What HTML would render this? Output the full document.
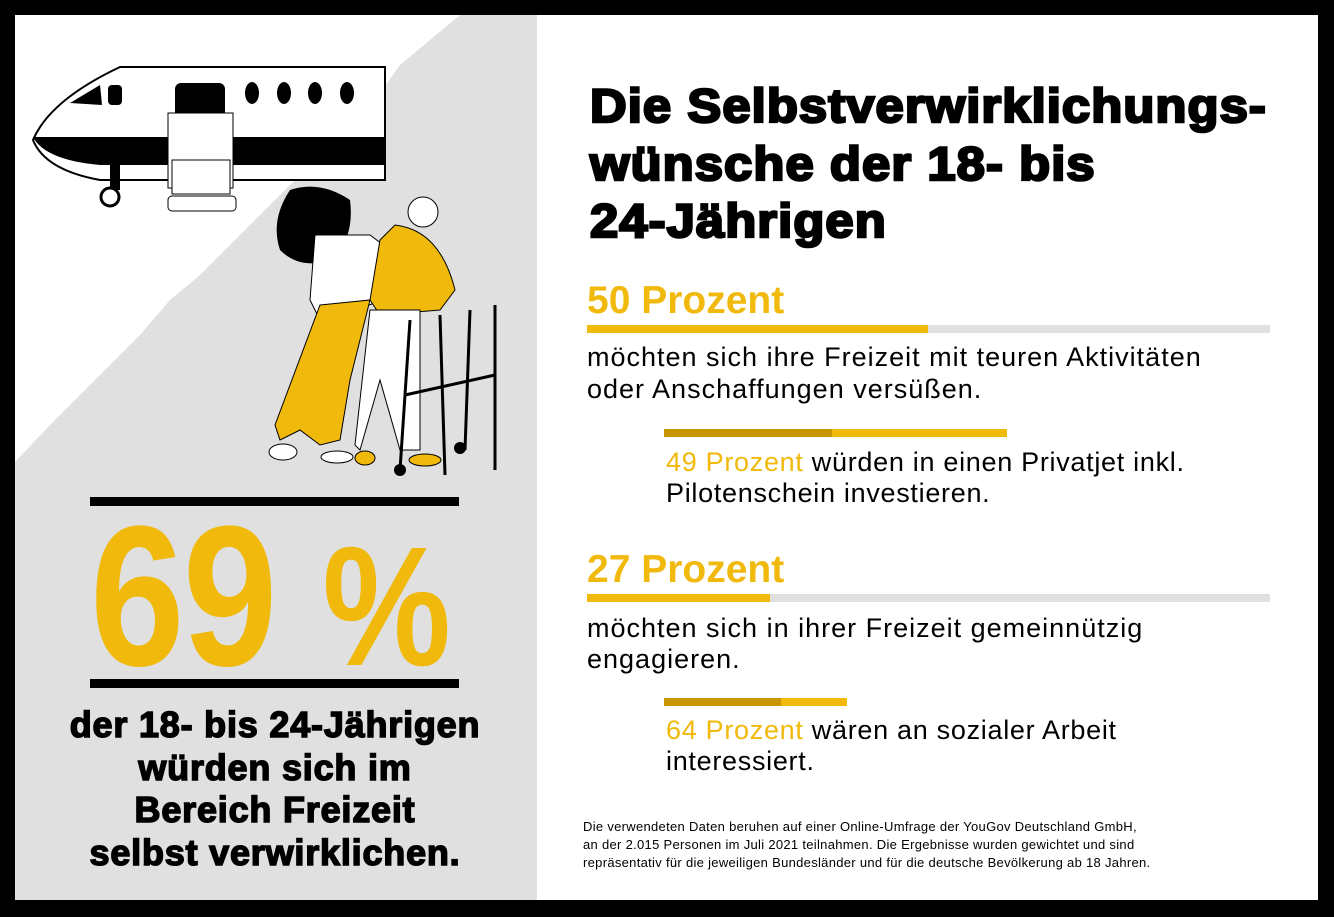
<!DOCTYPE html>
<html><head><meta charset="utf-8"><style>
html,body{margin:0;padding:0}
body{width:1334px;height:917px;background:#000;position:relative;overflow:hidden;font-family:"Liberation Sans",sans-serif}
#left{position:absolute;left:15px;top:15px;width:522px;height:885px;background:#e0e0e0}
#right{position:absolute;left:537px;top:15px;width:781px;height:885px;background:#fff}
.t{position:absolute;white-space:nowrap}
.title{left:590px;font-weight:bold;font-size:47px;color:#000;-webkit-text-stroke:2.5px #000;letter-spacing:1px;line-height:1;transform:scaleX(1.08);transform-origin:left}
.y{color:#f0b90b}
.bar{position:absolute;height:8px}
.body{font-size:27px;color:#000;left:587px;letter-spacing:1px}
.sub{font-size:27px;color:#000;left:666px;letter-spacing:0.7px}
.big{font-size:39px;font-weight:bold;color:#f0b90b;left:587px}
.foot{font-size:13px;left:583px;color:#000;letter-spacing:0.3px}
.bl{font-weight:bold;font-size:36px;-webkit-text-stroke:1.5px #000;width:440px;text-align:center;left:55px;letter-spacing:0.8px}
</style></head><body>
<div id="left"></div>
<div id="right"></div>
<svg style="position:absolute;left:0;top:0" width="537" height="917">
<polygon points="15,15 460,15 430,40 400,65 375,100 345,130 320,160 290,185 260,215 230,245 200,275 170,300 140,335 110,365 80,395 50,425 15,462" fill="#fff"/>
<path d="M120,67 L385,67 L385,180 L100,180 Q45,170 33,140 Q50,100 120,67Z" fill="#fff" stroke="#000" stroke-width="2"/>
<path d="M33,137 L385,137 L385,165 L100,165 Q45,160 33,137Z" fill="#000"/>
<path d="M70,103 L100,85 L102,105 Z" fill="#000"/>
<rect x="108" y="85" width="14" height="20" rx="4" fill="#000"/>
<rect x="175" y="83" width="50" height="70" rx="6" fill="#000"/>
<rect x="168" y="113" width="65" height="75" fill="#fff" stroke="#000"/>
<rect x="172" y="160" width="58" height="34" fill="#fff" stroke="#000"/>
<rect x="168" y="196" width="68" height="15" rx="4" fill="#fff" stroke="#000"/>
<g fill="#000"><ellipse cx="252" cy="93" rx="7" ry="11"/><ellipse cx="284" cy="93" rx="7" ry="11"/><ellipse cx="315" cy="93" rx="7" ry="11"/><ellipse cx="347" cy="93" rx="7" ry="11"/></g>
<rect x="110" y="165" width="10" height="25" fill="#000"/>
<circle cx="110" cy="197" r="9" fill="#fff" stroke="#000" stroke-width="3"/>
<path d="M290,190 Q320,180 350,200 Q355,240 330,260 Q300,270 280,250 Q270,220 290,190Z" fill="#000"/>
<path d="M315,235 L370,235 L390,250 L385,300 L320,320 L310,300Z" fill="#fff" stroke="#000"/>
<path d="M320,305 L370,300 L350,380 L340,440 L320,445 L300,430 L280,440 L275,425 Z" fill="#f0b90b" stroke="#000"/>
<path d="M395,225 Q440,230 455,290 L440,310 L380,315 L370,300 L380,240Z" fill="#f0b90b" stroke="#000"/>
<path d="M370,310 L420,310 L420,450 L400,450 L380,380 L360,450 L355,445 Z" fill="#fff" stroke="#000"/>
<circle cx="423" cy="212" r="15" fill="#fff" stroke="#000"/>
<g stroke="#000" stroke-width="3" fill="none"><path d="M410,320 L400,470"/><path d="M440,315 L445,475"/><path d="M470,310 L465,450"/><path d="M495,305 L495,470"/><path d="M405,395 L495,375"/></g>
<g fill="#000"><circle cx="400" cy="470" r="6"/><circle cx="460" cy="448" r="6"/></g>
<ellipse cx="365" cy="458" rx="10" ry="7" fill="#f0b90b" stroke="#000"/>
<ellipse cx="425" cy="460" rx="16" ry="6" fill="#f0b90b" stroke="#000"/>
<ellipse cx="283" cy="452" rx="14" ry="8" fill="#fff" stroke="#000"/>
<ellipse cx="337" cy="457" rx="16" ry="6" fill="#fff" stroke="#000"/>
</svg>
<div class="bar" style="left:90px;top:497px;width:369px;height:9px;background:#000"></div>
<div class="bar" style="left:90px;top:679px;width:369px;height:9px;background:#000"></div>
<div class="t" style="left:90px;top:497px;font-size:200px;font-weight:bold;color:#f0b90b;transform:scaleX(0.85);transform-origin:left;letter-spacing:-2px;line-height:1.0">69<span style="font-size:170px;margin-left:55px">%</span></div>
<div class="t bl" style="top:704px">der 18- bis 24-Jährigen</div>
<div class="t bl" style="top:747px">würden sich im</div>
<div class="t bl" style="top:789px">Bereich Freizeit</div>
<div class="t bl" style="top:832px">selbst verwirklichen.</div>

<div class="t title" style="top:82px">Die Selbstverwirklichungs-</div>
<div class="t title" style="top:140px">wünsche der 18- bis</div>
<div class="t title" style="top:197px">24-Jährigen</div>

<div class="t big" style="top:279px">50 Prozent</div>
<div class="bar" style="left:587px;top:325px;width:683px;background:#e0e0e0"></div>
<div class="bar" style="left:587px;top:325px;width:341px;background:#f0b90b"></div>
<div class="t body" style="top:342px">möchten sich ihre Freizeit mit teuren Aktivitäten</div>
<div class="t body" style="top:374px">oder Anschaffungen versüßen.</div>
<div class="bar" style="left:664px;top:429px;width:343px;background:#f0b90b"></div>
<div class="bar" style="left:664px;top:429px;width:168px;background:#c89400"></div>
<div class="t sub" style="top:447px"><span class="y">49 Prozent</span> würden in einen Privatjet inkl.</div>
<div class="t sub" style="top:478px">Pilotenschein investieren.</div>

<div class="t big" style="top:548px">27 Prozent</div>
<div class="bar" style="left:587px;top:594px;width:683px;background:#e0e0e0"></div>
<div class="bar" style="left:587px;top:594px;width:183px;background:#f0b90b"></div>
<div class="t body" style="top:613px">möchten sich in ihrer Freizeit gemeinnützig</div>
<div class="t body" style="top:644px">engagieren.</div>
<div class="bar" style="left:664px;top:698px;width:183px;background:#f0b90b"></div>
<div class="bar" style="left:664px;top:698px;width:117px;background:#c89400"></div>
<div class="t sub" style="top:715px"><span class="y">64 Prozent</span> wären an sozialer Arbeit</div>
<div class="t sub" style="top:746px">interessiert.</div>

<div class="t foot" style="top:819px">Die verwendeten Daten beruhen auf einer Online-Umfrage der YouGov Deutschland GmbH,</div>
<div class="t foot" style="top:837px">an der 2.015 Personen im Juli 2021 teilnahmen. Die Ergebnisse wurden gewichtet und sind</div>
<div class="t foot" style="top:855px">repräsentativ für die jeweiligen Bundesländer und für die deutsche Bevölkerung ab 18 Jahren.</div>
</body></html>
